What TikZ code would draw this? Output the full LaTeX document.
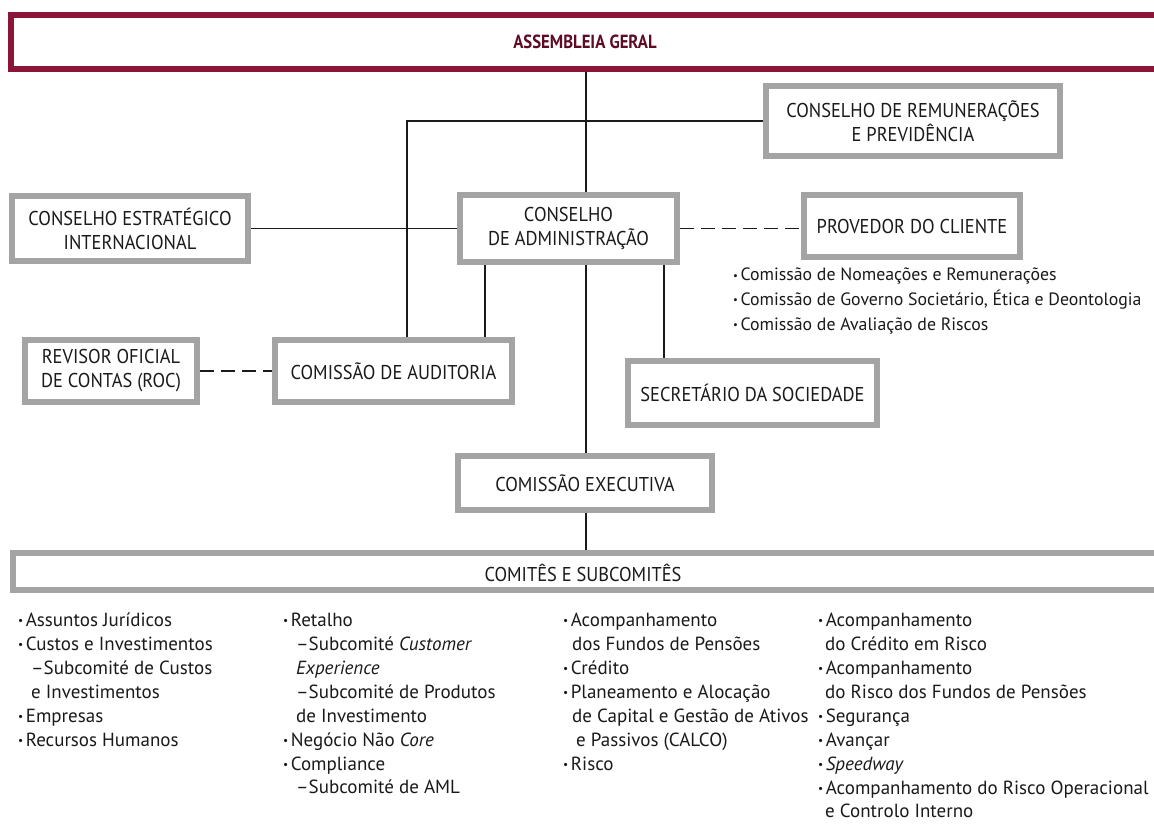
\documentclass[tikz,border=0pt]{standalone}
\usepackage{fontspec}
\setmainfont{PT Sans}
\newfontfamily\boxfam{PT Sans}[FakeStretch=0.92]
\newfontfamily\agfam{PT Sans}[FakeStretch=0.88]
\definecolor{boxgray}{HTML}{A4A4A4}
\definecolor{maroon}{HTML}{8A1538}
\definecolor{maroontext}{HTML}{5E0C24}
\definecolor{txt}{HTML}{1A1A1A}
\newcommand{\bul}{\raisebox{0.2ex}{\scalebox{0.6}{•}}\kern2.5pt}
\tikzset{
  orgbox/.style={draw=boxgray, line width=6pt, fill=white, align=center,
     font=\boxfam\fontsize{20}{24}\selectfont, text=txt, inner sep=0pt},
  link/.style={draw=txt, line width=1.2pt},
  dlink/.style={link, dash pattern=on 14pt off 7pt},
  blist/.style={align=left, anchor=north west, inner sep=0pt, text=txt,
     font=\fontsize{17.8}{24.8}\selectfont},
  clist/.style={align=left, anchor=north west, inner sep=0pt, text=txt,
     font=\fontsize{19}{23.9}\selectfont}
}
\begin{document}
\begin{tikzpicture}[x=1pt,y=-1pt]
\useasboundingbox (0,0) rectangle (1154,832);
\fill[white] (0,0) rectangle (1154,832);
% top
\node[draw=maroon, line width=6pt, fill=white, minimum width=1175, minimum height=54,
      anchor=west, inner sep=0pt] (ag) at (8,42) {};
\node[text=maroontext, font=\agfam\bfseries\fontsize{19}{22}\selectfont] (agt) at (585,42) {ASSEMBLEIA GERAL};
\node[orgbox, minimum width=294, minimum height=70] (crp) at (913,121) {CONSELHO DE REMUNERAÇÕES\\E PREVIDÊNCIA};
\node[orgbox, minimum width=236, minimum height=65] (cei) at (130,228.5) {CONSELHO ESTRATÉGICO\\INTERNACIONAL};
\node[orgbox, minimum width=217, minimum height=67] (ca) at (568.5,228.5) {CONSELHO\\DE ADMINISTRAÇÃO};
\node[orgbox, minimum width=216, minimum height=62] (pc) at (912,226) {PROVEDOR DO CLIENTE};
\node[orgbox, minimum width=172, minimum height=62] (roc) at (111,371) {REVISOR OFICIAL\\DE CONTAS (ROC)};
\node[orgbox, minimum width=237, minimum height=62] (aud) at (393.5,371) {COMISSÃO DE AUDITORIA};
\node[orgbox, minimum width=249, minimum height=64] (sec) at (752.5,393) {SECRETÁRIO DA SOCIEDADE};
\node[orgbox, minimum width=254, minimum height=54] (ce) at (585,483) {COMISSÃO EXECUTIVA};
\node[orgbox, minimum width=1175, minimum height=37, anchor=west] (cs) at (10,571.5) {};
\node[text=txt, font=\boxfam\fontsize{20}{23}\selectfont] (cst) at (583,573) {COMITÊS E SUBCOMITÊS};
% helper coordinates
\coordinate (vx) at (586,0);
\coordinate (lx) at (407,0);
\coordinate (ax) at (485,0);
\coordinate (sx) at (664,0);
% connectors
\draw[link] (ag.south -| vx) -- (ca.north -| vx);
\draw[link] (crp.west) -- (crp.west -| lx) -- (aud.north -| lx);
\draw[link] (cei.east) -- (ca.west);
\draw[dlink] (ca.east) -- (ca.east -| pc.west);
\draw[link] (ca.south -| ax) -- (aud.north -| ax);
\draw[link] (ca.south -| sx) -- (sec.north -| sx);
\draw[dlink] (roc.east) -- (aud.west);
\draw[link] (ca.south -| vx) -- (ce.north -| vx);
\draw[link] (ce.south -| vx) -- (cs.north -| vx);
% list under provedor
\node[blist] (pl) at (733,268) {\bul Comissão de Nomeações e Remunerações\\
\bul Comissão de Governo Societário, Ética e Deontologia\\
\bul Comissão de Avaliação de Riscos};
% bottom columns
\node[clist] (c1) at (18,613) {\bul Assuntos Jurídicos\\
\bul Custos e Investimentos\\
\hspace*{13pt}–Subcomité de Custos\\
\hspace*{13pt}e Investimentos\\
\bul Empresas\\
\bul Recursos Humanos};
\node[clist] (c2) at (283,613) {\bul Retalho\\
\hspace*{13pt}–Subcomité \textit{Customer}\\
\hspace*{13pt}\textit{Experience}\\
\hspace*{13pt}–Subcomité de Produtos\\
\hspace*{13pt}de Investimento\\
\bul Negócio Não \textit{Core}\\
\bul Compliance\\
\hspace*{13pt}–Subcomité de AML};
\node[clist] (c3) at (563,613) {\bul Acompanhamento\\
\hspace*{9pt}dos Fundos de Pensões\\
\bul Crédito\\
\bul Planeamento e Alocação\\
\hspace*{9pt}de Capital e Gestão de Ativos\\
\hspace*{13pt}e Passivos (CALCO)\\
\bul Risco};
\node[clist] (c4) at (818,613) {\bul Acompanhamento\\
\hspace*{7pt}do Crédito em Risco\\
\bul Acompanhamento\\
\hspace*{7pt}do Risco dos Fundos de Pensões\\
\bul Segurança\\
\bul Avançar\\
\bul \textit{Speedway}\\
\bul Acompanhamento do Risco Operacional\\
\hspace*{7pt}e Controlo Interno};
\end{tikzpicture}
\end{document}
